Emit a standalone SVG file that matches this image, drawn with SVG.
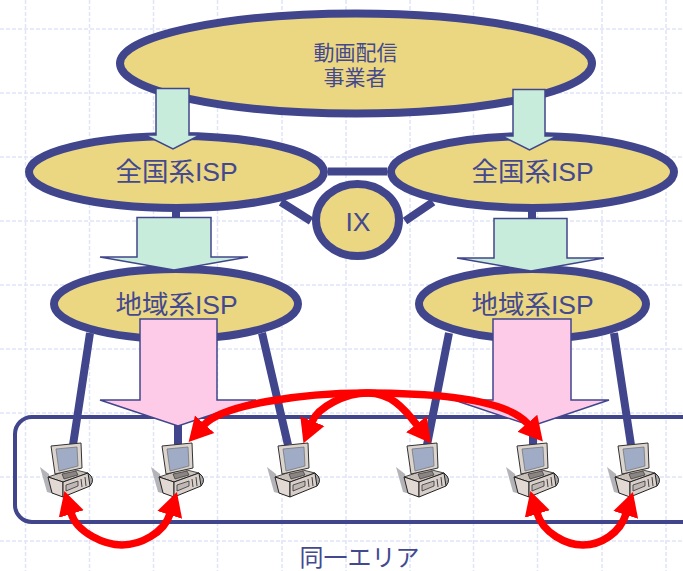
<svg xmlns="http://www.w3.org/2000/svg" xmlns:xlink="http://www.w3.org/1999/xlink" width="683" height="571" viewBox="0 0 683 571">
<style>
.grid{stroke:#dfe5f8;stroke-width:1.5;stroke-dasharray:4 2;fill:none}
.node{fill:#ebd682;stroke:#40458c;stroke-width:8}
.link{stroke:#40458c;stroke-width:8;fill:none}
.t{font-family:"Liberation Sans","Noto Sans CJK JP",sans-serif;fill:#44498f;font-size:26.5px}
.c{text-anchor:middle}
.small{font-size:21px}
.green{fill:#c8ecdb;stroke:#40458c;stroke-width:1.5}
.pink{fill:#fdcbe8;stroke:#40458c;stroke-width:1.5}
.red{fill:none;stroke:#ff0000;stroke-width:7.5;marker-start:url(#head);marker-end:url(#head)}
</style>
<defs>
<marker id="head" markerUnits="userSpaceOnUse" markerWidth="30" markerHeight="32" viewBox="0 -16 30 32" refX="1" refY="0" orient="auto-start-reverse">
<path d="M0,-13 L24,0 L0,13 z" fill="#ff0000"/>
</marker>
<g id="pc">
<path d="M-10,24 L-1,31 L4,51 L-3,49 z" fill="#b4b4b8"/>
<path d="M38,30 Q46,36 40,43" fill="#a9a9a9" stroke="#222" stroke-width="1"/>
<path d="M-2,34 L22,26 L38,30 L13,39 z" fill="#c9c0ba" stroke="#222" stroke-width=".8"/>
<path d="M-2,34 L13,39 L13,54 L2,50 z" fill="#e2d8d4" stroke="#222" stroke-width="1"/>
<path d="M13,39 L38,30 L40,43 L13,54 z" fill="#d8cfca" stroke="#222" stroke-width="1"/>
<path d="M16,42 L28,38 L28,43 L16,48 z" fill="#c0b8b4" stroke="#333" stroke-width=".8"/>
<path d="M31,36 L32,44 M35,34 L36,43" stroke="#444" stroke-width="1" fill="none"/>
<path d="M1,3 L31,0 L32,25 L5,31 z" fill="#dcd4ce" stroke="#333" stroke-width="1"/>
<path d="M6,6 L27,4 L28,23 L9,28 z" fill="#a0abc6" stroke="#777" stroke-width=".8"/>
<path d="M12,31 L26,28 L28,32 L14,36 z" fill="#8a8582" stroke="#222" stroke-width=".6"/>
</g>
</defs>
<rect width="683" height="571" fill="#ffffff"/>
<g id="grid">
<path class="grid" d="M25.5,0V571M89.5,0V571M153.5,0V571M217.5,0V571M282,0V571M346,0V571M410,0V571M473.5,0V571M537.5,0V571M602,0V571M666,0V571"/>
<path class="grid" d="M0,29H683M0,93H683M0,157H683M0,221H683M0,285H683M0,349H683M0,413H683M0,477H683M0,541H683"/>
</g>
<g id="connectors">
<path class="link" d="M328,171.5H387M281,202L311,221M433,202L405,221"/>
<path class="link" d="M176,205V222M532,205V222"/>
<path class="link" d="M90,333L73,445M262,333L288,445M449,333L427,445M614,333L631,445"/>
<path class="link" d="M178,420V445M533,420V445"/>
</g>
<g id="area"><rect x="15" y="417" width="690" height="105" rx="17" ry="17" fill="none" stroke="#40458c" stroke-width="4"/></g>
<g id="provider"><ellipse class="node" cx="356" cy="63.5" rx="236" ry="50"/></g>
<g id="isp-n1"><ellipse class="node" cx="176.5" cy="172" rx="147.5" ry="36"/></g>
<g id="isp-n2"><ellipse class="node" cx="532.5" cy="172" rx="141.5" ry="36"/></g>
<g id="ix"><ellipse class="node" cx="357.5" cy="220" rx="41.5" ry="36"/><text class="t c" x="358" y="231">IX</text></g>
<g id="isp-r1"><ellipse class="node" cx="176" cy="304" rx="122" ry="35"/></g>
<g id="isp-r2"><ellipse class="node" cx="532.5" cy="304" rx="113.5" ry="35"/></g>
<g id="label-provider"><text class="t c small" x="355.5" y="60">動画配信</text><text class="t c small" x="355" y="85">事業者</text></g>
<g id="label-n1"><text class="t" x="115.5" y="181">全国系ISP</text></g>
<g id="label-n2"><text class="t" x="471.5" y="181">全国系ISP</text></g>
<g id="label-r1"><text class="t" x="115.5" y="314">地域系ISP</text></g>
<g id="label-r2"><text class="t" x="471.5" y="314">地域系ISP</text></g>
<g id="arrows">
<path class="green" d="M156,88.5H189V135H200L173,149L145,135H156z"/>
<path class="green" d="M513,89.5H545V136H557L529.5,150L502,136H513z"/>
<path class="green" d="M137,217.5H211V257H248L174,270L100,257H137z"/>
<path class="green" d="M494,218.5H567V258H604L531,271L457,258H494z"/>
<path class="pink" d="M140,319H217V400H256L178,426L100,400H140z"/>
<path class="pink" d="M493,319H571V400H609L532,426L454,400H493z"/>
</g>
<g id="pc1"><use href="#pc" x="50" y="443"/></g>
<g id="pc2"><use href="#pc" x="161" y="443"/></g>
<g id="pc3"><use href="#pc" x="277" y="443"/></g>
<g id="pc4"><use href="#pc" x="406" y="443"/></g>
<g id="pc5"><use href="#pc" x="516" y="443"/></g>
<g id="pc6"><use href="#pc" x="617" y="443"/></g>
<g id="red-links">
<path class="red" d="M204,425 C222,405 300,393 366,393 C430,393 506,398 528,424"/>
<path class="red" d="M312,422 C318,407 345,393 368,393 C390,393 403,407 417,425"/>
<path class="red" d="M71,513 C77,533 105,545 122,545 C140,545 164,533 170,514"/>
<path class="red" d="M537,513 C543,533 566,545 583,545 C601,545 620,533 626,514"/>
</g>
<g id="label-area"><text class="t" x="299.5" y="566" style="font-size:24px">同一エリア</text></g>
</svg>
